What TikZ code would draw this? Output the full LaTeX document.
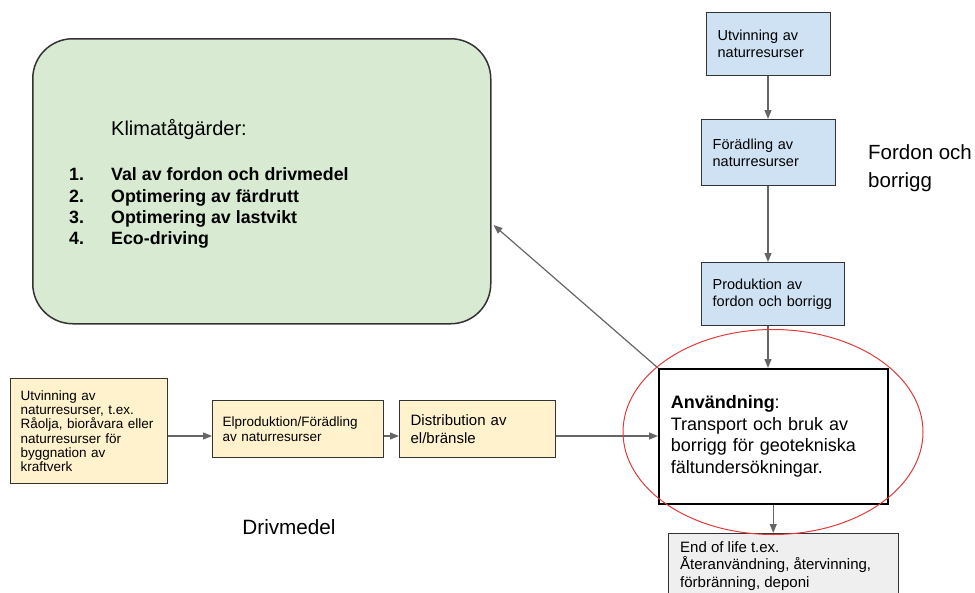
\documentclass[tikz,border=0pt]{standalone}
\usepackage{fontspec}
\setmainfont{Liberation Sans}
\usetikzlibrary{arrows.meta,shapes.geometric,calc}
\definecolor{bluefill}{HTML}{CFE2F3}
\definecolor{yellowfill}{HTML}{FFF2CC}
\definecolor{greenfill}{HTML}{D9EAD3}
\definecolor{grayfill}{HTML}{EFEFEF}
\definecolor{boxline}{HTML}{333333}
\definecolor{arrowgray}{HTML}{666666}
\definecolor{ringred}{HTML}{E03A3A}
\newcommand{\fsz}[2]{\fontsize{#1}{#2}\selectfont}
\begin{document}
\begin{tikzpicture}[x=1pt,y=-1pt,
  box/.style={draw=boxline, line width=1.3pt, align=left, inner ysep=0pt, anchor=north west},
  arr/.style={draw=arrowgray, line width=1.2pt, -{Triangle[length=9pt,width=7pt]}},
  plain/.style={inner sep=0pt, anchor=base west, align=left}]
\useasboundingbox (0,0) rectangle (975,592);
\clip (0,0) rectangle (975,592);

% green box with the list of measures
\node[draw=boxline, line width=1.5pt, fill=greenfill, rounded corners=40pt,
      minimum width=458pt, minimum height=285pt, anchor=north west] (green) at (32,38) {};
\node[plain, font=\fsz{20}{24}] (klim) at (111,135) {Klimatåtgärder:};
\begin{scope}[every node/.style={plain, font=\bfseries\fsz{17.8}{21}}]
  \node (n1) at (69,180) {1.};  \node (l1) at (111,180) {Val av fordon och drivmedel};
  \node (n2) at (69,202) {2.};  \node (l2) at (111,202) {Optimering av färdrutt};
  \node (n3) at (69,223) {3.};  \node (l3) at (111,223) {Optimering av lastvikt};
  \node (n4) at (69,244) {4.};  \node (l4) at (111,244) {Eco-driving};
\end{scope}

% vehicle chain
\node[box, fill=bluefill, font=\fsz{14.5}{17}, inner xsep=11pt,
      minimum width=124pt, minimum height=63pt, text width=102pt] (b1) at (706,12)
      {Utvinning av\\naturresurser};
\node[box, fill=bluefill, font=\fsz{14.5}{17}, inner xsep=11pt,
      minimum width=134pt, minimum height=66pt, text width=112pt] (b2) at (701,119)
      {Förädling av\\naturresurser};
\node[box, fill=bluefill, font=\fsz{14.5}{17}, inner xsep=11pt,
      minimum width=143pt, minimum height=63pt, text width=121pt] (b3) at (701,262)
      {Produktion av\\fordon och borrigg};
% the base anchor of a two-line node sits on its last line
\node[plain, font=\fsz{20.5}{28}] (fordon) at (868,187) {Fordon och\\borrigg};

% use phase
\node[box, draw=black, fill=white, line width=1.5pt, font=\fsz{18}{21.7}, inner xsep=12pt,
      minimum width=229pt, minimum height=135pt, text width=205pt] (anv) at (658,368)
      {\textbf{Användning}:\\Transport och bruk av\\borrigg för geotekniska\\fältundersökningar.};

% end of life
\node[draw=boxline, line width=1.3pt, fill=grayfill, anchor=north west,
      minimum width=230pt, minimum height=90pt] (eol) at (668,533) {};
\node[plain, font=\fsz{15}{17.5}] (eoltext) at (680,587)
      {End of life t.ex.\\Återanvändning, återvinning,\\förbränning, deponi};

% fuel chain
\node[box, fill=yellowfill, font=\fsz{13.5}{14.3}, inner xsep=10pt,
      minimum width=157pt, minimum height=105pt, text width=137pt] (ya) at (10,378)
      {Utvinning av\\naturresurser, t.ex.\\Råolja, bioråvara eller\\naturresurser för\\byggnation av\\kraftverk};
\node[box, fill=yellowfill, font=\fsz{13.5}{15.5}, inner xsep=10pt,
      minimum width=171pt, minimum height=57pt, text width=151pt] (yb) at (212,400)
      {Elproduktion/Förädling\\av naturresurser};
\node[box, fill=yellowfill, font=\fsz{15}{18}, inner xsep=11pt,
      minimum width=156pt, minimum height=57pt, text width=134pt] (yc) at (399,400)
      {Distribution av\\el/bränsle};
\node[anchor=base, inner sep=0pt, font=\fsz{20.7}{24}] (drivmedel) at (289,534) {Drivmedel};

% connectors
\coordinate (colx) at (768,0);
\coordinate (rowy) at (0,436);
\coordinate (gy) at (0,225);
\draw[arr] (b1.south -| colx) -- (b2.north -| colx);
\draw[arr] (b2.south -| colx) -- (b3.north -| colx);
\draw[arr] (b3.south -| colx) -- (anv.north -| colx);
\draw[arr] (anv.south) -- (anv.south |- eol.north);
\draw[arr] (ya.east |- rowy) -- (yb.west |- rowy);
\draw[arr] (yb.east |- rowy) -- (yc.west |- rowy);
\draw[arr] (yc.east |- rowy) -- (anv.west |- rowy);
\draw[arr] (anv.north west) -- ([xshift=2pt]green.east |- gy);

% highlight ring
\node[ellipse, draw=ringred, line width=1pt, minimum width=300pt, minimum height=205pt,
      inner sep=0pt] (ring) at (773,432) {};
\end{tikzpicture}
\end{document}
